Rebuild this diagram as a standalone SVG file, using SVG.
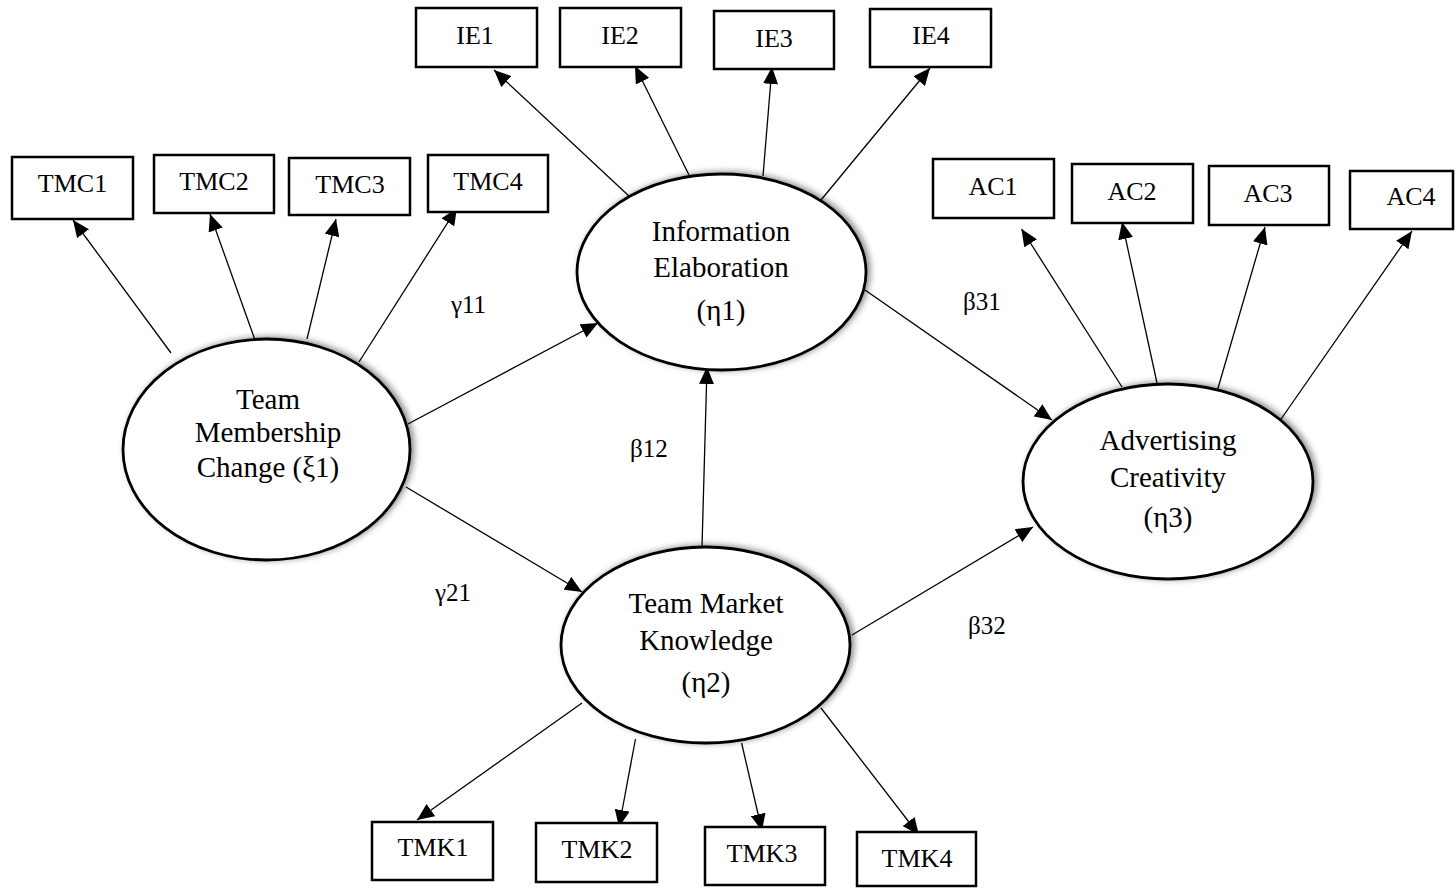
<svg xmlns="http://www.w3.org/2000/svg" width="1456" height="888" viewBox="0 0 1456 888">
<style>
.box{fill:#fff;stroke:#000;stroke-width:2.5}
.ell{fill:#fff;stroke:#000;stroke-width:2.8;filter:url(#sh)}
.bt{font-family:"Liberation Serif","Times New Roman",serif;font-size:26px;text-anchor:middle;fill:#000}
.et{font-family:"Liberation Serif","Times New Roman",serif;font-size:29px;text-anchor:middle;fill:#000}
.lb{font-family:"Liberation Serif","Times New Roman",serif;font-size:25px;fill:#000}
.c line{stroke:#000;stroke-width:1.3;marker-end:url(#ah)}
</style>
<defs>
<marker id="ah" markerUnits="userSpaceOnUse" viewBox="0 0 17 15" refX="17" refY="7.5" markerWidth="17" markerHeight="15" orient="auto">
<path d="M0,0 L17,7.5 L0,15 z" fill="#000"/>
</marker>
<filter id="sh" x="-10%" y="-15%" width="125%" height="130%">
<feDropShadow dx="3" dy="-1" stdDeviation="3" flood-color="#000" flood-opacity="0.45"/>
</filter>
</defs>
<rect width="1456" height="888" fill="#fff"/>

<g id="connectors" class="c">
<line x1="171" y1="353" x2="73" y2="220"/>
<line x1="255" y1="340" x2="210" y2="214"/>
<line x1="307" y1="339" x2="336" y2="219"/>
<line x1="359" y1="362" x2="457" y2="208"/>
<line x1="630" y1="197" x2="494" y2="70"/>
<line x1="689" y1="175" x2="635" y2="66"/>
<line x1="763" y1="176" x2="772" y2="67"/>
<line x1="821" y1="200" x2="930" y2="68"/>
<line x1="1122" y1="387" x2="1021.5" y2="229"/>
<line x1="1157" y1="383" x2="1122" y2="222"/>
<line x1="1216" y1="395" x2="1265" y2="227"/>
<line x1="1279" y1="422" x2="1412" y2="231"/>
<line x1="582" y1="703" x2="417" y2="820"/>
<line x1="635.5" y1="739" x2="619" y2="827"/>
<line x1="741.6" y1="743" x2="762" y2="831"/>
<line x1="821" y1="708" x2="919" y2="835"/>
<line x1="408" y1="424" x2="598" y2="323"/>
<line x1="406" y1="487" x2="582" y2="592"/>
<line x1="702" y1="547" x2="707" y2="367"/>
<line x1="865" y1="290" x2="1052" y2="420"/>
<line x1="852" y1="635" x2="1033" y2="527"/>
</g>

<g id="labels">
<text class="lb" x="451" y="313">γ11</text>
<text class="lb" x="435" y="601">γ21</text>
<text class="lb" x="630" y="457">β12</text>
<text class="lb" x="963" y="310">β31</text>
<text class="lb" x="968" y="634">β32</text>
</g>

<g id="TMC"><ellipse class="ell" cx="266.5" cy="449.5" rx="143.5" ry="110.5"/>
<text class="et" x="268" y="409">Team</text><text class="et" x="268" y="442">Membership</text><text class="et" x="268" y="477">Change (ξ1)</text></g>
<g id="IE"><ellipse class="ell" cx="721.5" cy="272" rx="144.5" ry="98"/>
<text class="et" x="721" y="241">Information</text><text class="et" x="721" y="277">Elaboration</text><text class="et" x="721" y="320">(η1)</text></g>
<g id="TMK"><ellipse class="ell" cx="705.5" cy="645" rx="144.5" ry="98"/>
<text class="et" x="706" y="613">Team Market</text><text class="et" x="706" y="650">Knowledge</text><text class="et" x="706" y="692">(η2)</text></g>
<g id="AC"><ellipse class="ell" cx="1168" cy="481.5" rx="145" ry="97.5"/>
<text class="et" x="1168" y="450">Advertising</text><text class="et" x="1168" y="487">Creativity</text><text class="et" x="1168" y="527">(η3)</text></g>

<g id="TMC1"><rect class="box" x="12" y="157" width="121" height="62"/><text class="bt" x="72.5" y="192">TMC1</text></g>
<g id="TMC2"><rect class="box" x="154" y="155" width="120" height="58"/><text class="bt" x="214" y="190">TMC2</text></g>
<g id="TMC3"><rect class="box" x="289" y="158" width="121" height="57"/><text class="bt" x="350" y="193">TMC3</text></g>
<g id="TMC4"><rect class="box" x="428" y="155" width="120" height="57"/><text class="bt" x="488" y="190">TMC4</text></g>

<g id="IE1"><rect class="box" x="416" y="8" width="121" height="59"/><text class="bt" x="475" y="44">IE1</text></g>
<g id="IE2"><rect class="box" x="560" y="8" width="121" height="59"/><text class="bt" x="620" y="44">IE2</text></g>
<g id="IE3"><rect class="box" x="714" y="11" width="120" height="58"/><text class="bt" x="774" y="47">IE3</text></g>
<g id="IE4"><rect class="box" x="870" y="9" width="121" height="58"/><text class="bt" x="931" y="44">IE4</text></g>

<g id="AC1"><rect class="box" x="933" y="159" width="121" height="59"/><text class="bt" x="993" y="195">AC1</text></g>
<g id="AC2"><rect class="box" x="1072" y="164" width="121" height="59"/><text class="bt" x="1132" y="200">AC2</text></g>
<g id="AC3"><rect class="box" x="1209" y="166" width="120" height="59"/><text class="bt" x="1268" y="202">AC3</text></g>
<g id="AC4"><rect class="box" x="1350" y="171" width="103" height="58"/><text class="bt" x="1411" y="205">AC4</text></g>

<g id="TMK1"><rect class="box" x="372" y="822" width="121" height="58"/><text class="bt" x="433" y="856">TMK1</text></g>
<g id="TMK2"><rect class="box" x="536" y="823" width="121" height="59"/><text class="bt" x="597" y="858">TMK2</text></g>
<g id="TMK3"><rect class="box" x="705" y="827" width="120" height="58"/><text class="bt" x="762" y="862">TMK3</text></g>
<g id="TMK4"><rect class="box" x="857" y="832" width="119" height="54"/><text class="bt" x="917" y="867">TMK4</text></g>
</svg>
